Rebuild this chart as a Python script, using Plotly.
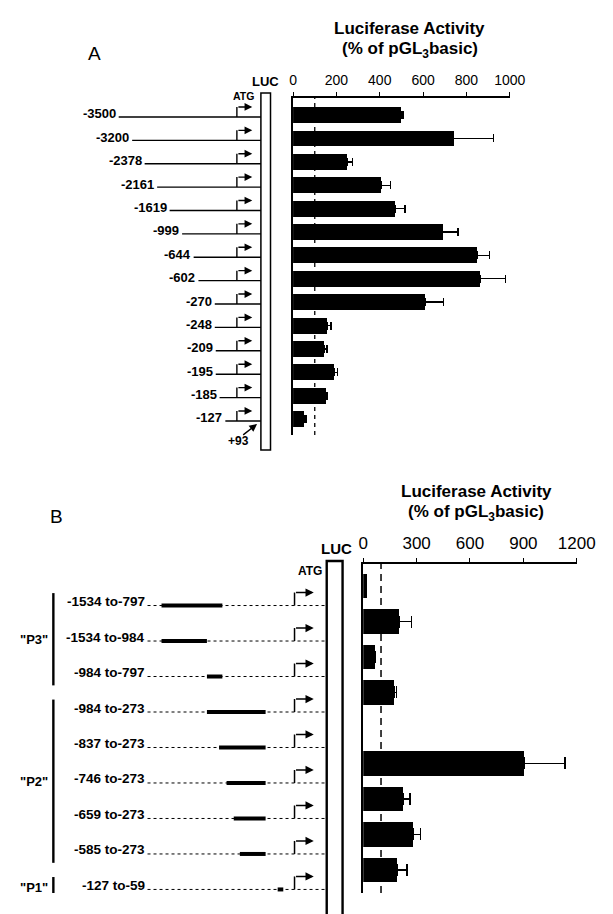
import plotly.graph_objects as go

W, H = 613, 914
FONT = "Liberation Sans, Arial, sans-serif"

# ---------------- Panel A data ----------------
a_constructs = ["-3500", "-3200", "-2378", "-2161", "-1619", "-999", "-644",
                "-602", "-270", "-248", "-209", "-195", "-185", "-127"]
a_activity = [500, 741, 250, 407, 471, 690, 850, 865, 610, 159, 145, 191, 154, 50]
a_error = [8, 185, 25, 43, 45, 71, 57, 114, 83, 16, 12, 15, 5, 9]
a_ticks = [0, 200, 400, 600, 800, 1000]
# schematic start (px) of each construct line in the drawing
a_line_start = [110, 124, 137, 150, 163, 176, 188, 193, 210, 210, 211, 211, 215, 221]

# ---------------- Panel B data ----------------
b_constructs = ["-1534 to-797", "-1534 to-984", "-984 to-797", "-984 to-273",
                "-837 to-273", "-746 to-273", "-659 to-273", "-585 to-273", "-127 to-59"]
b_start_bp = [-1534, -1534, -984, -984, -837, -746, -659, -585, -127]
b_end_bp = [-797, -984, -797, -273, -273, -273, -273, -273, -59]
b_activity = [20, 200, 70, 173, None, 903, 227, 279, 191]
b_error = [None, 72, None, 15, None, 230, 36, 43, 54]
b_ticks = [0, 300, 600, 900, 1200]
b_groups = [('"P3"', 0, 2), ('"P2"', 3, 7), ('"P1"', 8, 8)]

nA = len(a_constructs)
nB = len(b_constructs)
ya_idx = list(range(nA))
yb_idx = list(range(nB))

fig = go.Figure()

fig.add_trace(go.Bar(
    x=a_activity, y=ya_idx, orientation="h", width=0.68,
    marker=dict(color="black", line=dict(width=0)),
    error_x=dict(type="data", array=a_error, arrayminus=[0] * nA, symmetric=False,
                 color="black", thickness=1.4, width=4),
    xaxis="x", yaxis="y", hoverinfo="skip", showlegend=False))

fig.add_trace(go.Bar(
    x=b_activity, y=yb_idx, orientation="h", width=0.68,
    marker=dict(color="black", line=dict(width=0)),
    error_x=dict(type="data", array=b_error, arrayminus=[0] * nB, symmetric=False,
                 color="black", thickness=1.4, width=6),
    xaxis="x2", yaxis="y2", hoverinfo="skip", showlegend=False))

def px(v):
    return v / W

def py(v):
    return 1 - v / H

axis_common = dict(showgrid=False, zeroline=False, showline=True, linecolor="black",
                   linewidth=1.5, ticks="outside", ticklen=4, tickcolor="black",
                   tickwidth=1.2, side="top")

fig.update_layout(
    width=W, height=H, margin=dict(l=0, r=0, t=0, b=0, pad=0),
    paper_bgcolor="white", plot_bgcolor="rgba(0,0,0,0)",
    font=dict(family=FONT, color="black"),
    bargap=0,
    xaxis=dict(domain=[px(291.5), px(517)], range=[0, 1000], tickvals=a_ticks,
               anchor="y", tickfont=dict(size=14), ticklabelstandoff=2, **axis_common),
    yaxis=dict(domain=[py(427), py(90)], range=[13.68, -0.73], showgrid=False,
               zeroline=False, showline=True, linecolor="black", linewidth=1.5,
               showticklabels=False, ticks="", anchor="x"),
    xaxis2=dict(domain=[px(364.5), px(586.7)], range=[0, 1200], tickvals=b_ticks,
                anchor="y2", tickfont=dict(size=17), ticklabelstandoff=2, **axis_common),
    yaxis2=dict(domain=[py(885), py(556)], range=[8.65, -0.62], showgrid=False,
                zeroline=False, showline=True, linecolor="black", linewidth=1.5,
                showticklabels=False, ticks="", anchor="x2"),
    # pixel-space axes for the schematic drawing
    xaxis3=dict(domain=[0, 1], range=[0, W], visible=False, anchor="y3"),
    yaxis3=dict(domain=[0, 1], range=[H, 0], visible=False, anchor="x3"),
    # base-pair axis for panel B construct segments
    xaxis4=dict(domain=[0, 1], range=[-3333.6, 3802.6], visible=False, anchor="y3",
                overlaying="x3"),
)

shapes = []
ann = []

def text(x, y, s, size, bold=True, xanchor="center", yanchor="middle", xref="x3",
         yref="y3", yshift=0):
    ann.append(dict(x=x, y=y, xref=xref, yref=yref, text=("<b>%s</b>" % s) if bold else s,
                    showarrow=False, xanchor=xanchor, yanchor=yanchor, yshift=yshift,
                    font=dict(size=size, family=FONT, color="black")))

# ---- Panel A texts ----
text(85, 45, "A", 19, bold=False)
text(413, 20, "Luciferase Activity", 17)
text(413, 42, "(% of pGL<sub>3</sub>basic)", 17)
text(263, 73, "LUC", 13)
text(240, 88, "ATG", 10.5)

# dashed reference line (100 %)
shapes.append(dict(type="line", xref="x", yref="y domain", x0=100, x1=100, y0=0, y1=1,
                   line=dict(color="black", width=1.3, dash="4px,4px"), layer="below"))
shapes.append(dict(type="line", xref="x2", yref="y2 domain", x0=100, x1=100, y0=0, y1=1,
                   line=dict(color="black", width=1.5, dash="7px,5px"), layer="below"))

# LUC box A
shapes.append(dict(type="rect", xref="x3", yref="y3", x0=258, x1=268, y0=85, y1=442,
                   line=dict(color="black", width=1.5), fillcolor="white"))

A_OFF = 0.08
A_RISE = 10 / 23.38
for i, lab in enumerate(a_constructs):
    yl = i + A_OFF
    text(a_line_start[i] - 1, yl, lab, 13, xanchor="right", yref="y", yshift=3)
    shapes.append(dict(type="line", xref="x3", yref="y", x0=a_line_start[i], x1=258,
                       y0=yl, y1=yl, line=dict(color="black", width=1.4)))
    shapes.append(dict(type="line", xref="x3", yref="y", x0=233, x1=233,
                       y0=yl, y1=yl - A_RISE, line=dict(color="black", width=1.4)))
    ann.append(dict(x=249, y=yl - A_RISE, xref="x3", yref="y", ax=233, ay=yl - A_RISE,
                    axref="x3", ayref="y", text="", showarrow=True, arrowhead=2,
                    arrowsize=1.1, arrowwidth=1.4, arrowcolor="black", standoff=0))

# +93 marker
text(235, 433, "+93", 12)
ann.append(dict(x=254, y=416, xref="x3", yref="y3", ax=238, ay=428, axref="x3", ayref="y3",
                text="", showarrow=True, arrowhead=2, arrowsize=1.1, arrowwidth=1.4,
                arrowcolor="black", standoff=0))

# ---- Panel B texts ----
text(45, 508, "B", 19, bold=False)
text(482, 483, "Luciferase Activity", 17)
text(482, 505, "(% of pGL<sub>3</sub>basic)", 17)
text(337, 540, "LUC", 15)
text(309, 563, "ATG", 12)

# LUC box B (open at the bottom)
shapes.append(dict(type="rect", xref="x3", yref="y3", x0=326.5, x1=343, y0=553, y1=940,
                   line=dict(color="black", width=2.4), fillcolor="white"))

B_OFF = 0.55
B_RISE = 13 / 35.5
for i, lab in enumerate(b_constructs):
    yl = i + B_OFF
    text(139, yl, lab, 13.5, xanchor="right", yref="y2", yshift=4)
    shapes.append(dict(type="line", xref="x3", yref="y2", x0=140, x1=326, y0=yl, y1=yl,
                       line=dict(color="black", width=1, dash="dot")))
    shapes.append(dict(type="line", xref="x4", yref="y2", x0=b_start_bp[i], x1=b_end_bp[i],
                       y0=yl, y1=yl, line=dict(color="black", width=4)))
    shapes.append(dict(type="line", xref="x3", yref="y2", x0=293, x1=293,
                       y0=yl, y1=yl - B_RISE, line=dict(color="black", width=1.5)))
    ann.append(dict(x=313, y=yl - B_RISE, xref="x3", yref="y2", ax=293, ay=yl - B_RISE,
                    axref="x3", ayref="y2", text="", showarrow=True, arrowhead=2,
                    arrowsize=1.1, arrowwidth=1.5, arrowcolor="black", standoff=0))

for name, i0, i1 in b_groups:
    y0 = i0 + B_OFF - 0.35
    y1 = i1 + B_OFF + 0.25
    shapes.append(dict(type="line", xref="x3", yref="y2", x0=42, x1=42, y0=y0, y1=y1,
                       line=dict(color="black", width=2.4)))
    text(39, (y0 + y1) / 2, name, 13, xanchor="right", yref="y2")

fig.update_layout(shapes=shapes, annotations=ann)
fig.write_html("out.html")
